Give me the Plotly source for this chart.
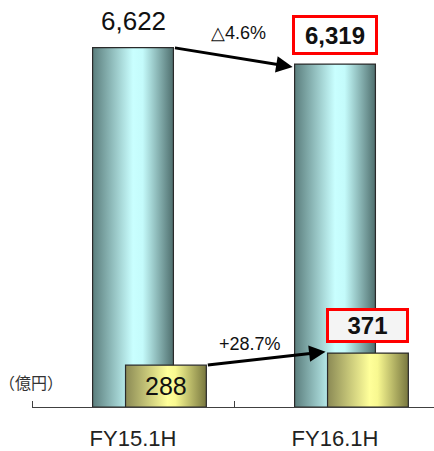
import plotly.graph_objects as go

# Half-year results (億円)
periods = ["FY15.1H", "FY16.1H"]
sales = [6622, 6319]          # left scale, teal columns
profit = [288, 371]           # right scale, yellow columns
sales_change = "△4.6%"
profit_change = "+28.7%"
unit_label = "（億円）"

BAR_W = 0.40
PROFIT_SHIFT = 0.163
FONT = "Liberation Sans, Arial, sans-serif"

teal_scale = [[0, "#5b7e7d"], [0.5, "#c9ffff"], [0.62, "#c4fbfb"], [1, "#4f6f6e"]]
olive_scale = [[0, "#8b8a55"], [0.52, "#ffff9a"], [0.62, "#f8f890"], [1, "#78773f"]]

fig = go.Figure()


def column(center, value, scale, yaxis):
    x0, x1 = center - BAR_W / 2, center + BAR_W / 2
    return go.Scatter(
        x=[x0, x1, x1, x0, x0],
        y=[0, 0, value, value, 0],
        mode="lines",
        fill="toself",
        fillgradient=dict(type="horizontal", colorscale=scale),
        line=dict(color="#2a2a2a", width=1.2),
        yaxis=yaxis,
        hoverinfo="skip",
        showlegend=False,
    )


for i, v in enumerate(sales):
    fig.add_trace(column(i, v, teal_scale, "y"))
for i, v in enumerate(profit):
    fig.add_trace(column(i + PROFIT_SHIFT, v, olive_scale, "y2"))

ann = []
# value labels
ann.append(dict(x=0, y=sales[0], xref="x", yref="y", text=f"{sales[0]:,}",
                showarrow=False, yanchor="bottom", yshift=10,
                font=dict(family=FONT, size=26, color="#111")))
ann.append(dict(x=1, y=sales[1], xref="x", yref="y", text=f"<b>{sales[1]:,}</b>",
                showarrow=False, yanchor="bottom", yshift=9,
                width=76, height=30, borderpad=2, borderwidth=3,
                bordercolor="#ff0000", bgcolor="#ffffff",
                font=dict(family=FONT, size=24, color="#111")))
ann.append(dict(x=PROFIT_SHIFT, y=profit[0] / 2, xref="x", yref="y2",
                text=f"{profit[0]:,}", showarrow=False,
                font=dict(family=FONT, size=25, color="#111")))
ann.append(dict(x=1 + PROFIT_SHIFT, y=profit[1], xref="x", yref="y2",
                text=f"<b>{profit[1]:,}</b>", showarrow=False,
                yanchor="bottom", yshift=10,
                width=73, height=25, borderpad=2, borderwidth=3,
                bordercolor="#ff0000", bgcolor="#f4f4f4",
                font=dict(family=FONT, size=24, color="#111")))
# change labels
ann.append(dict(x=0.52, y=6895, xref="x", yref="y", text=sales_change,
                showarrow=False, font=dict(family=FONT, size=18, color="#111")))
ann.append(dict(x=0.58, y=431, xref="x", yref="y2", text=profit_change,
                showarrow=False, font=dict(family=FONT, size=18, color="#111")))
# unit label
ann.append(dict(x=-0.003, y=0.061, xref="paper", yref="paper", text=unit_label,
                showarrow=False, xanchor="center", yanchor="middle",
                font=dict(family="Noto Sans CJK JP", size=16, color="#333")))
# trend arrows
ann.append(dict(x=1 - BAR_W / 2, y=sales[1] - 60, xref="x", yref="y",
                ax=BAR_W / 2, ay=sales[0], axref="x", ayref="y", text="",
                showarrow=True, arrowhead=2, arrowsize=1.1, arrowwidth=3,
                arrowcolor="#000", standoff=2))
ann.append(dict(x=1 + PROFIT_SHIFT - BAR_W / 2, y=profit[1] + 10, xref="x", yref="y2",
                ax=PROFIT_SHIFT + BAR_W / 2, ay=profit[0], axref="x", ayref="y2",
                text="", showarrow=True, arrowhead=2, arrowsize=1.1, arrowwidth=3,
                arrowcolor="#000", standoff=2))

fig.update_layout(
    width=434, height=451,
    margin=dict(l=32, r=0, t=0, b=42),
    paper_bgcolor="white", plot_bgcolor="white",
    annotations=ann,
    xaxis=dict(range=[-0.5, 1.49], tickvals=[0, 1], ticktext=periods,
               showline=True, linecolor="#404040", linewidth=1,
               showgrid=False, zeroline=False, ticks="",
               ticklabelstandoff=12,
               tickfont=dict(family=FONT, size=22, color="#222"),
               minor=dict(tick0=-0.5, dtick=1, ticks="inside", ticklen=6,
                          tickcolor="#404040", showgrid=False)),
    yaxis=dict(range=[0, 7500], visible=False),
    yaxis2=dict(range=[0, 2800], overlaying="y", visible=False),
)

fig.write_html("out.html")
